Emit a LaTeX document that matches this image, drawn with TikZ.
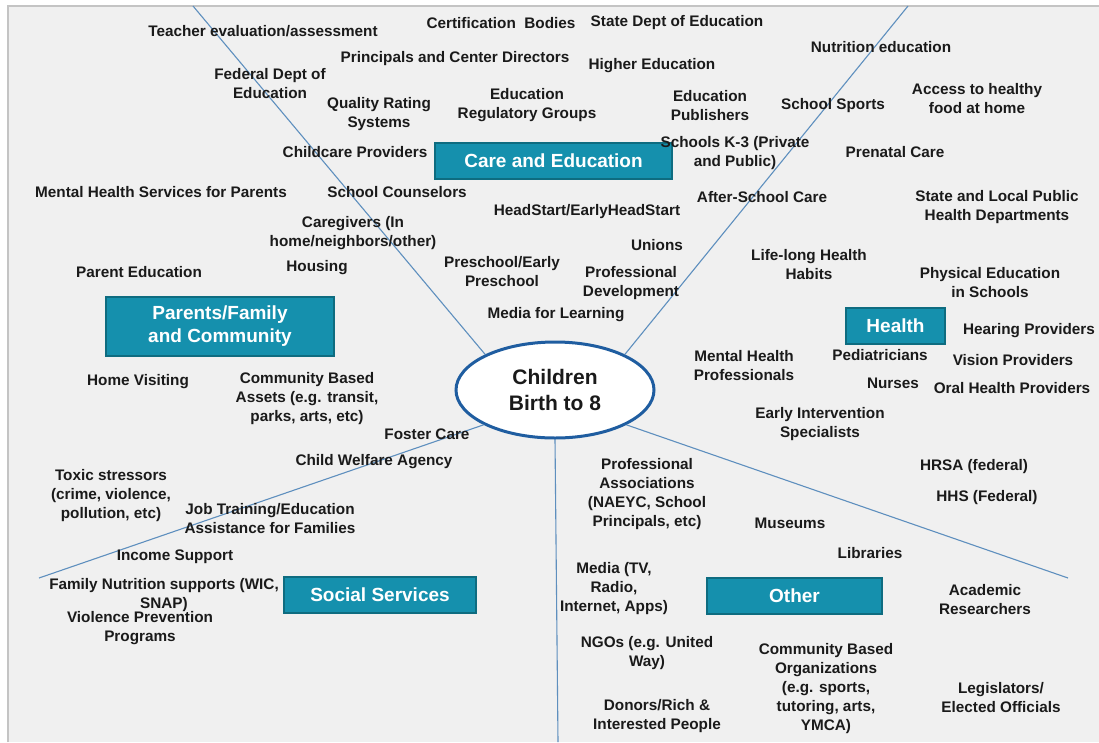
\documentclass[tikz,border=0pt]{standalone}
\usepackage{fontspec}
\setmainfont{Liberation Sans}
\usetikzlibrary{shapes.geometric}
\definecolor{bgc}{HTML}{F0F0F0}
\definecolor{framec}{HTML}{C4C4C4}
\definecolor{boxfill}{HTML}{1590AD}
\definecolor{boxline}{HTML}{0E6C80}
\definecolor{spokec}{HTML}{5E8FBE}
\definecolor{ellc}{HTML}{1F5DA0}
\definecolor{txt}{HTML}{1A1A1A}
\tikzset{
  lbl/.style={inner sep=0pt, align=center, text=txt, yshift=-1.5pt, font=\bfseries\fontsize{15.3}{19}\selectfont},
  catbox/.style={draw=boxline, line width=1.6pt, fill=boxfill, text=white, inner sep=0pt, align=center, font=\bfseries\fontsize{19}{23}\selectfont},
  spoke/.style={draw=spokec, line width=1.1pt},
}
\begin{document}
\begin{tikzpicture}[x=1pt,y=-1pt]
\useasboundingbox (0,0) rectangle (1099,742);
\fill[white] (0,0) rectangle (1099,742);
\fill[bgc] (8,6) rectangle (1099,742);
\draw[framec, line width=2pt] (8,742) -- (8,6) -- (1099,6);

% central node
\node[ellipse, draw=ellc, line width=3pt, fill=white, minimum width=198pt, minimum height=96pt, inner sep=0pt, align=center, font=\bfseries\fontsize{21}{26}\selectfont, text=txt] (child) at (555,390) {Children\\Birth to 8};

% spoke ends
\coordinate (s1) at (193,6);
\coordinate (s2) at (908,6);
\coordinate (s3) at (39,578);
\coordinate (s4) at (558,742);
\coordinate (s5) at (1068,578);
\draw[spoke] (child.153) -- (s1);
\draw[spoke] (child.27) -- (s2);
\draw[spoke] (child.206) -- (s3);
\draw[spoke] (child.270) -- (s4);
\draw[spoke] (child.-26) -- (s5);

% category boxes
\node[catbox, minimum width=237pt, minimum height=36pt] (care) at (553.5,161) {Care and Education};
\node[catbox, minimum width=228pt, minimum height=59pt] (parents) at (220,326.5) {Parents/Family\\and Community};
\node[catbox, minimum width=99pt, minimum height=36pt] (health) at (895.5,326) {Health};
\node[catbox, minimum width=192pt, minimum height=36pt] (social) at (380,595) {Social Services};
\node[catbox, minimum width=175pt, minimum height=36pt] (other) at (794.5,596) {Other};

% labels
\node[lbl] (t1) at (263,30) {Teacher evaluation/assessment};
\node[lbl] (t2) at (501,22) {Certification\ \ Bodies};
\node[lbl] (t3) at (677,21) {State Dept of Education};
\node[lbl] (t4) at (455,57) {Principals and Center Directors};
\node[lbl] (t5) at (652,64) {Higher Education};
\node[lbl] (t6) at (881,46) {Nutrition education};
\node[lbl] (t7) at (270,82) {Federal Dept of\\Education};
\node[lbl] (t8) at (379,113) {Quality Rating\\Systems};
\node[lbl] (t9) at (527,104) {Education\\Regulatory Groups};
\node[lbl] (t10) at (710,104) {Education\\Publishers};
\node[lbl] (t11) at (833,104) {School Sports};
\node[lbl] (t12) at (977,97) {Access to healthy\\food at home};
\node[lbl] (t13) at (355,151) {Childcare Providers};
\node[lbl] (t14) at (735,152) {Schools K-3 (Private\\and Public)};
\node[lbl] (t15) at (895,151) {Prenatal Care};
\node[lbl] (t16) at (161,191) {Mental Health Services for Parents};
\node[lbl] (t17) at (397,191) {School Counselors};
\node[lbl] (t18) at (762,196) {After-School Care};
\node[lbl] (t19) at (997,206) {State and Local Public\\Health Departments};
\node[lbl] (t20) at (587,210) {HeadStart/EarlyHeadStart};
\node[lbl] (t21) at (353,232) {Caregivers (In\\home/neighbors/other)};
\node[lbl] (t22) at (657,244) {Unions};
\node[lbl] (t23) at (139,271) {Parent Education};
\node[lbl] (t24) at (317,266) {Housing};
\node[lbl] (t25) at (502,270) {Preschool/Early\\Preschool};
\node[lbl] (t26) at (631,282) {Professional\\Development};
\node[lbl] (t27) at (809,263) {Life-long Health\\Habits};
\node[lbl] (t28) at (990,281) {Physical Education\\in Schools};
\node[lbl] (t29) at (556,313) {Media for Learning};
\node[lbl] (t30) at (1029,329) {Hearing Providers};
\node[lbl] (t31) at (744,364) {Mental Health\\Professionals};
\node[lbl] (t32) at (880,354) {Pediatricians};
\node[lbl] (t33) at (1013,359) {Vision Providers};
\node[lbl] (t34) at (893,382) {Nurses};
\node[lbl] (t35) at (1012,387) {Oral Health Providers};
\node[lbl] (t36) at (138,380) {Home Visiting};
\node[lbl] (t37) at (307,397) {Community Based\\Assets (e.g. transit,\\parks, arts, etc)};
\node[lbl] (t38) at (427,433) {Foster Care};
\node[lbl] (t39) at (820,423) {Early Intervention\\Specialists};
\node[lbl] (t40) at (374,460) {Child Welfare Agency};
\node[lbl] (t41) at (647,493) {Professional\\Associations\\(NAEYC, School\\Principals, etc)};
\node[lbl] (t42) at (974,465) {HRSA (federal)};
\node[lbl] (t43) at (987,496) {HHS (Federal)};
\node[lbl] (t44) at (111,494) {Toxic stressors\\(crime, violence,\\pollution, etc)};
\node[lbl] (t45) at (270,517) {Job Training/Education\\Assistance for Families};
\node[lbl] (t46) at (790,522) {Museums};
\node[lbl] (t47) at (870,552) {Libraries};
\node[lbl] (t48) at (175,555) {Income Support};
\node[lbl] (t49) at (164,594) {Family Nutrition supports (WIC,\\SNAP)};
\node[lbl] (t50) at (140,627) {Violence Prevention\\Programs};
\node[lbl] (t51) at (614,587) {Media (TV,\\Radio,\\Internet, Apps)};
\node[lbl] (t52) at (985,598) {Academic\\Researchers};
\node[lbl] (t53) at (647,652) {NGOs (e.g. United\\Way)};
\node[lbl] (t54) at (826,687) {Community Based\\Organizations\\(e.g. sports,\\tutoring, arts,\\YMCA)};
\node[lbl] (t55) at (1001,696) {Legislators/\\Elected Officials};
\node[lbl] (t56) at (657,715) {Donors/Rich \&\\Interested People};
\end{tikzpicture}
\end{document}
